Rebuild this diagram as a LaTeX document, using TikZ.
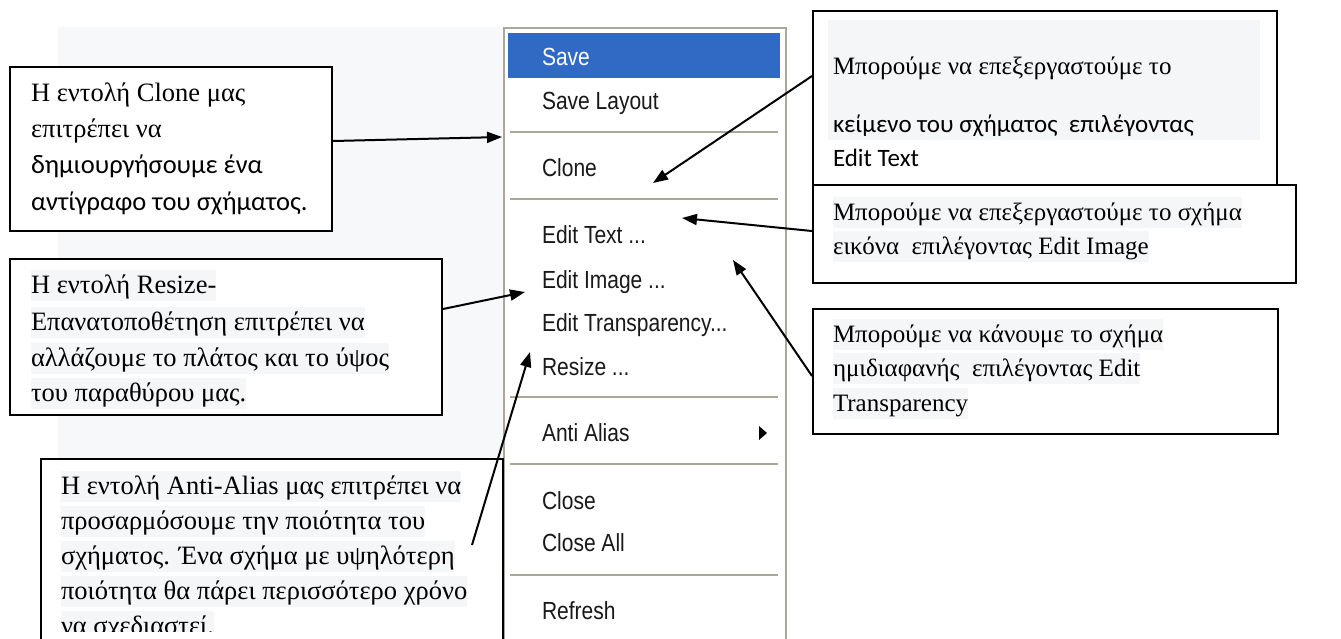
\documentclass[tikz,border=0pt]{standalone}
\usepackage{fontspec}
\setmainfont{Liberation Serif}
\setsansfont{Liberation Sans}
\newfontfamily\calibri{Carlito}
\usepackage{graphicx}
\usetikzlibrary{arrows.meta}
\definecolor{pagebg}{HTML}{F7F8FA}
\definecolor{hl}{HTML}{F5F6F8}
\definecolor{xpblue}{HTML}{316AC5}
\definecolor{xpline}{HTML}{ACA899}
\newcommand{\mtext}[1]{\scalebox{1}[1.18]{#1}}

\begin{document}
\begin{tikzpicture}[x=1pt,y=-1pt,->,>={Triangle[length=15pt,width=11pt]},line width=2pt,
    box/.style={draw=black,fill=white,inner sep=0pt,anchor=north west},
    txt/.style={anchor=base west,inner sep=0pt,font=\fontsize{25}{30}\selectfont},
    sanstxt/.style={txt,font=\fontsize{25}{30}\calibri\selectfont},
    hline/.style={txt,fill=hl,text height=23pt,text depth=8pt},
    big/.style={font=\fontsize{26.5}{30}\selectfont},
    bigsans/.style={font=\fontsize{26.5}{30}\calibri\selectfont},
    item/.style={anchor=base west,inner sep=0pt,text=black!90,
                 font=\fontsize{21}{24}\sffamily\selectfont}]
\useasboundingbox (0,0) rectangle (1341,638);
\clip (0,0) rectangle (1341,638);
\fill[pagebg] (58,27) rectangle (503,458);

\node[box,draw=xpline,minimum width=282pt,minimum height=640pt] (menu) at (503,27) {};
\fill[xpblue] (508,33) rectangle (780,78);
\node[item,text=white] (save) at (541,65) {\mtext{Save}};
\node[item] (savelayout) at (541,109) {\mtext{Save Layout}};
\node[item] (clone) at (541,176) {\mtext{Clone}};
\node[item] (edittext) at (541,243) {\mtext{Edit Text ...}};
\node[item] (editimage) at (541,288) {\mtext{Edit Image ...}};
\node[item] (edittransp) at (541,331) {\mtext{Edit Transparency...}};
\node[item] (resize) at (541,375) {\mtext{Resize ...}};
\node[item] (antialias) at (541,441) {\mtext{Anti Alias}};
\node[item] (close) at (541,509) {\mtext{Close}};
\node[item] (closeall) at (541,551) {\mtext{Close All}};
\node[item] (refresh) at (541,619) {\mtext{Refresh}};
\fill (759,426) -- (767,433) -- (759,440) -- cycle;
\draw[-,xpline] (510,132) -- (778,132);
\draw[-,xpline] (510,199) -- (778,199);
\draw[-,xpline] (510,397) -- (778,397);
\draw[-,xpline] (510,464) -- (778,464);
\draw[-,xpline] (510,575) -- (778,575);

\node[box,minimum width=322pt,minimum height=164pt] (clonebox) at (9,66) {};
\node[txt,big] (clone1) at (30,101) {Η εντολή Clone μας};
\node[txt,big] (clone2) at (30,137) {επιτρέπει να};
\node[sanstxt,bigsans] (clone3) at (30,173) {δημιουργήσουμε ένα};
\node[sanstxt,bigsans] (clone4) at (30,210) {αντίγραφο του σχήματος.};

\node[box,minimum width=432pt,minimum height=156pt] (resizebox) at (9,258) {};
\node[hline,big] (resize1) at (30,293) {Η εντολή Resize-};
\node[hline,big] (resize2) at (30,330) {Επανατοποθέτηση επιτρέπει να};
\node[hline,big] (resize3) at (30,366) {αλλάζουμε το πλάτος και το ύψος};
\node[hline,big] (resize4) at (30,401) {του παραθύρου μας.};

\node[box,minimum width=462pt,minimum height=200pt] (aliasbox) at (40,458) {};
\begin{scope}
\clip (0,0) rectangle (1341,631);
\node[hline,big] (alias1) at (60,494) {Η εντολή Anti-Alias μας επιτρέπει να};
\node[hline,big] (alias2) at (60,529) {προσαρμόσουμε την ποιότητα του};
\node[hline,big] (alias3) at (60,564) {σχήματος. Ένα σχήμα με υψηλότερη};
\node[hline,big] (alias4) at (60,599) {ποιότητα θα πάρει περισσότερο χρόνο};
\node[hline,big] (alias5) at (60,634) {να σχεδιαστεί.};
\end{scope}

\node[box,minimum width=464pt,minimum height=174pt] (textbox) at (812,10) {};
\fill[hl] (828,20) rectangle (1260,140);
\node[txt] (text1) at (832,74) {Μπορούμε να επεξεργαστούμε το};
\node[sanstxt] (text2) at (832,132) {κείμενο του σχήματος~ επιλέγοντας};
\node[sanstxt] (text3) at (832,166) {Edit Text};

\node[box,minimum width=483pt,minimum height=98pt] (imagebox) at (812,184) {};
\node[hline] (image1) at (832,220) {Μπορούμε να επεξεργαστούμε το σχήμα};
\node[hline] (image2) at (832,254) {εικόνα~ επιλέγοντας Edit Image};

\node[box,minimum width=465pt,minimum height=125pt] (transpbox) at (812,308) {};
\node[hline] (transp1) at (832,342) {Μπορούμε να κάνουμε το σχήμα};
\node[hline] (transp2) at (832,376) {ημιδιαφανής~ επιλέγοντας Edit};
\node[hline] (transp3) at (832,411) {Transparency};

\coordinate (tclone) at (502,137);
\coordinate (tresize) at (525,292);
\coordinate (talias) at (530,352);
\coordinate (afrom) at (472,545);
\coordinate (ttext) at (653,183);
\coordinate (timage) at (682,218);
\coordinate (ttransp) at (733,260);

\path
([yshift=8pt]clonebox.east) edge (tclone)
([yshift=28pt]resizebox.east) edge (tresize)
(afrom) edge (talias)
([yshift=22pt]textbox.west) edge (ttext)
([yshift=3pt]imagebox.west) edge (timage)
([yshift=-4.5pt]transpbox.west) edge (ttransp)
;
\end{tikzpicture}
\end{document}
